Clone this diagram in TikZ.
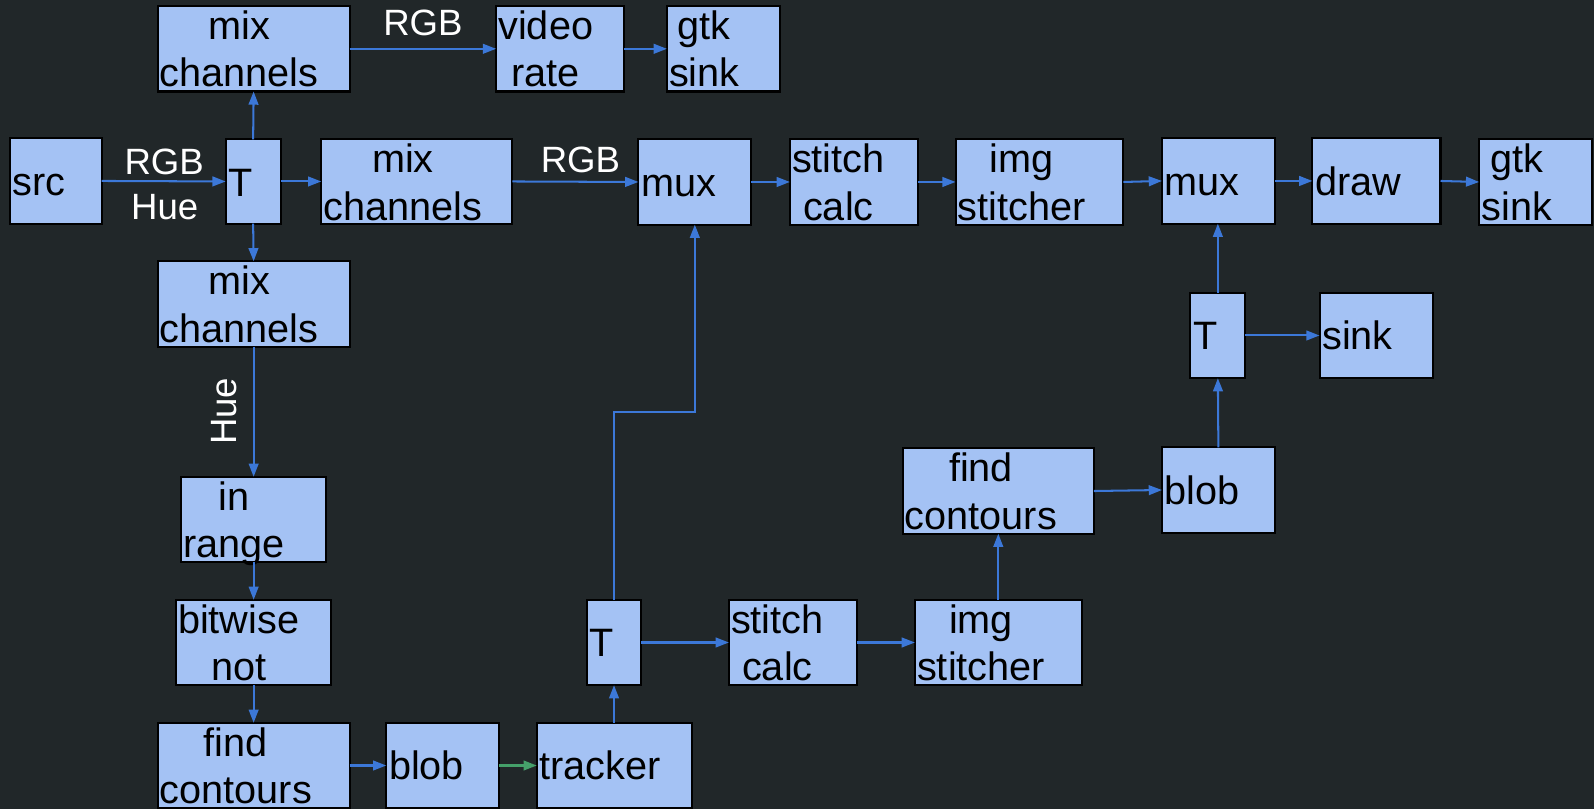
\documentclass[tikz,border=0pt]{standalone}
\usepackage{fontspec}
\setmainfont{Liberation Sans}
\usetikzlibrary{arrows.meta,calc}

\definecolor{canvasbg}{HTML}{212729}
\definecolor{boxfill}{HTML}{A4C2F4}
\definecolor{linkblue}{HTML}{3C78D8}
\definecolor{linkgreen}{HTML}{45A06A}

% two centred lines, baseline on the first one
\newcommand\twoline[2]{\begin{tabular}[t]{@{}c@{}}#1\\#2\end{tabular}}

% stage box with two lines of text: name, x1, y1, x2, y2, line 1, line 2
\newcommand\stagetwo[7]{%
  \node[stage, minimum width={#4-#2}, minimum height={#5-#3}] (#1) at (#2,#3) {};
  \node[caption] (#1-text) at ($(#1.north west)+(2,33)$) {\twoline{#6}{#7}};
}
% stage box with one line of text
\newcommand\stageone[6]{%
  \node[stage, minimum width={#4-#2}, minimum height={#5-#3}] (#1) at (#2,#3) {};
  \node[caption] (#1-text) at ($(#1.north west)+(2.5,56)$) {#6};
}

\begin{document}
\begin{tikzpicture}[x=1pt, y=-1pt,
  stage/.style={draw=black, line width=2pt, fill=boxfill, inner sep=0pt,
    outer sep=0pt, anchor=north west},
  caption/.style={anchor=base west, inner sep=0pt, text=black,
    font=\fontsize{39}{46.5}\selectfont},
  flowlabel/.style={anchor=base, inner sep=0pt, text=white,
    font=\fontsize{36}{42}\selectfont},
  link/.style={draw=linkblue, line width=2pt,
    -{Triangle[length=13pt,width=9.5pt]}},
  greenlink/.style={link, draw=linkgreen, -{Triangle[length=13pt,width=9.5pt,fill=linkgreen]}}]

\useasboundingbox (0,0) rectangle (1568,796);
\fill[canvasbg] (0,0) rectangle (1568,796);
\clip (0,0) rectangle (1568,796);

% top preview branch
\stagetwo{mixA}{155}{6}{344}{90}{mix}{channels}
\stagetwo{rateA}{488}{6}{614}{90}{video}{rate}
\stagetwo{gtkA}{656}{6}{767}{90}{gtk}{sink}

% main row
\stageone{src}{10}{136}{100}{220}{src}
\stageone{teeA}{222}{137}{276}{220}{T}
\stagetwo{mixB}{316}{137}{504}{220}{mix}{channels}
\stageone{muxA}{628}{137}{739}{221}{mux}
\stagetwo{calcA}{777}{137}{903}{221}{stitch}{calc}
\stagetwo{imgA}{940}{137}{1105}{221}{img}{stitcher}
\stageone{muxB}{1143}{136}{1254}{220}{mux}
\stageone{drawbox}{1291}{136}{1417}{220}{draw}
\stagetwo{gtkB}{1455}{137}{1566}{221}{gtk}{sink}

% hue branch
\stagetwo{mixC}{155}{257}{344}{341}{mix}{channels}
\stagetwo{range}{178}{469}{321}{553}{in}{range}
\stagetwo{notb}{173}{590}{326}{674}{bitwise}{not}
\stagetwo{findA}{155}{711}{344}{795}{find}{contours}
\stageone{blobA}{380}{711}{491}{795}{blob}
\stageone{track}{528}{711}{681}{795}{tracker}

% tracker output
\stageone{teeC}{577}{590}{631}{674}{T}
\stagetwo{calcB}{717}{590}{843}{674}{stitch}{calc}
\stagetwo{imgB}{900}{590}{1064}{674}{img}{stitcher}
\stagetwo{findB}{888}{441}{1076}{525}{find}{contours}
\stageone{blobB}{1143}{440}{1254}{524}{blob}
\stageone{teeB}{1171}{288}{1225}{372}{T}
\stageone{sink}{1298}{288}{1410}{372}{sink}

% connectors
\draw[link] (mixA.east) -- (rateA.west);
\draw[link] (rateA.east) -- (gtkA.west);
\draw[link] (src.east) -- (teeA.west);
\draw[link] (teeA.north) -- (mixA.south);
\draw[link] (teeA.east) -- (mixB.west);
\draw[link] (teeA.south) -- (mixC.north);
\draw[link] (mixB.east) -- (muxA.west);
\draw[link] (muxA.east) -- (calcA.west);
\draw[link] (calcA.east) -- (imgA.west);
\draw[link] (imgA.east) -- (muxB.west);
\draw[link] (muxB.east) -- (drawbox.west);
\draw[link] (drawbox.east) -- (gtkB.west);

\draw[link] (mixC.south) -- (range.north);
\draw[link] (range.south) -- (notb.north);
\draw[link] (notb.south) -- (findA.north);
\draw[link] (findA.east) -- (blobA.west);
\draw[greenlink] (blobA.east) -- (track.west);
\draw[link] (track.north -| teeC.south) -- (teeC.south);
\draw[link] (teeC.north) -- ++(0,-185) -| (muxA.south);
\draw[link] (teeC.east) -- (calcB.west);
\draw[link] (calcB.east) -- (imgB.west);
\draw[link] (imgB.north) -- (imgB.north |- findB.south);
\draw[link] (findB.east) -- (blobB.west);
\draw[link] (blobB.north) -- (teeB.south);
\draw[link] (teeB.north) -- (teeB.north |- muxB.south);
\draw[link] (teeB.east) -- (sink.west);

% stream labels
\node[flowlabel] (rgbTop) at (416,35) {RGB};
\node[flowlabel] (rgbIn) at (161.5,172) {RGB};
\node[flowlabel] (hueIn) at (162,216) {Hue};
\node[flowlabel] (rgbMid) at (571,170) {RGB};
\node[flowlabel, rotate=90] (hueDown) at (233,404.5) {Hue};
\end{tikzpicture}
\end{document}
